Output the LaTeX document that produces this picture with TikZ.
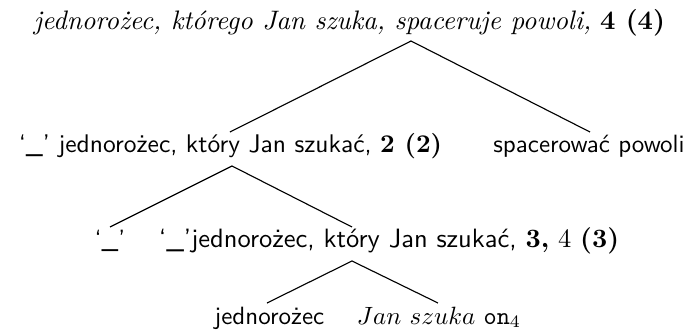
\documentclass[tikz,border=0pt]{standalone}
\usepackage{fontspec}
\begin{document}
\begin{tikzpicture}[x=0.4pt,y=-0.4pt,
  lbl/.style={anchor=base,inner sep=0pt,font=\fontsize{10}{12}\selectfont},
  rootlbl/.style={anchor=base,inner sep=0pt,font=\fontsize{10.7}{13}\selectfont},
  edge/.style={line width=0.45pt}]
\useasboundingbox (0,0) rectangle (696,333);
% texts
\node[rootlbl] (root) at (349.5,29) {\textit{jednorożec, którego Jan szuka, spaceruje powoli,} \textbf{4 (4)}};
\node[lbl,font=\fontsize{10.2}{12}\selectfont] (l2a) at (230.5,152) {\textsf{`\_' jednorożec, który Jan szukać,} \textbf{2 (2)}};
\node[lbl] (l2b) at (589,152) {\textsf{spacerować powoli}};
\node[lbl] (l3a) at (110,248) {\textsf{`\_'}};
\node[lbl,font=\fontsize{10.6}{12}\selectfont] (l3b) at (389,248) {\textsf{`\_'jednorożec, który Jan szukać,} \textbf{3,} 4 \textbf{(3)}};
\node[lbl] (l4a) at (269.5,324) {\textsf{jednorożec}};
\node[lbl] (l4b) at (439,324) {$Jan\ szuka$ \texttt{on}$_4$};
% attachment points
\coordinate (rtop) at (411,41);
\coordinate (l2aup) at (230,132);
\coordinate (l2bup) at (590,132);
\coordinate (l2top) at (232,166);
\coordinate (l3aup) at (110,227);
\coordinate (l3bup) at (352,227);
\coordinate (l3top) at (352,261);
\coordinate (l4aup) at (267,303);
\coordinate (l4bup) at (438,303);
% edges
\draw[edge] (l2aup) -- (rtop) -- (l2bup);
\draw[edge] (l3aup) -- (l2top) -- (l3bup);
\draw[edge] (l4aup) -- (l3top) -- (l4bup);
\end{tikzpicture}
\end{document}
